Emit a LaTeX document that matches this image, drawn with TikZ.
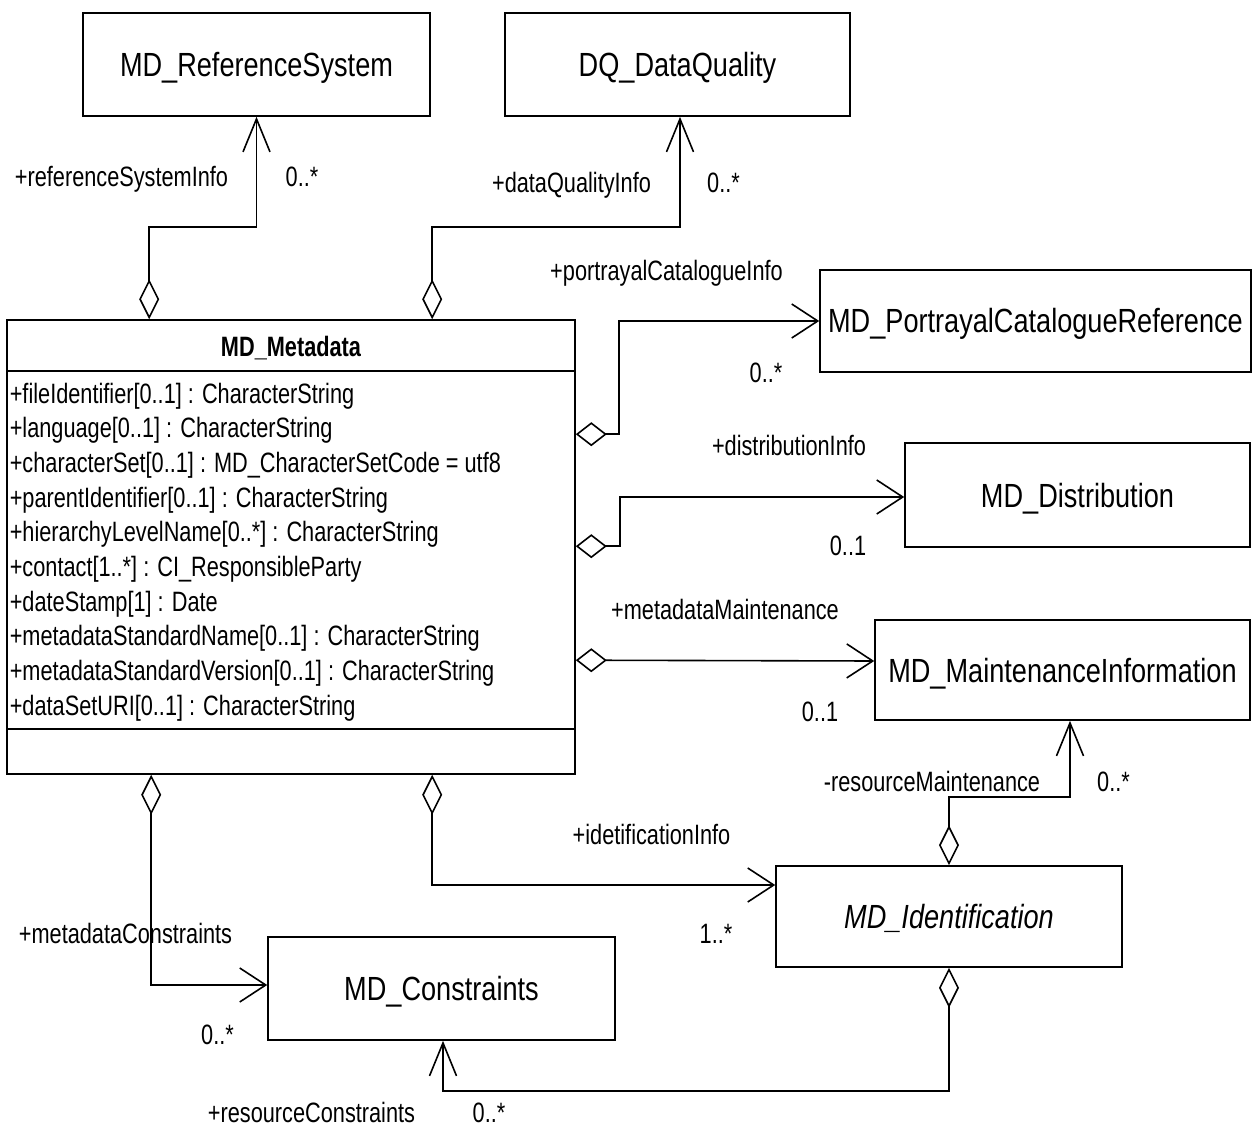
\documentclass[tikz,border=0pt]{standalone}
\usepackage{fontspec}
\setmainfont{Liberation Sans}[FakeStretch=0.81]
\newfontfamily\lblfont{Liberation Sans}[FakeStretch=0.776]
\usetikzlibrary{arrows.meta}

\tikzset{
  vdia/.tip={Diamond[open, length=40pt, width=20pt]},
  hdia/.tip={Diamond[open, length=31pt, width=24pt]},
  vbarb/.tip={Straight Barb[length=33pt, width=27pt]},
  hbarb/.tip={Straight Barb[length=26pt, width=34pt]},
}

\begin{document}
\begin{tikzpicture}[x=1pt, y=-1pt, line width=1.6pt,
    classbox/.style={draw, rectangle, inner sep=0pt, font=\fontsize{33.5}{36}\selectfont, text height=24pt, text depth=0pt},
    lbl/.style={inner sep=0pt, font=\lblfont\fontsize{28}{30}\selectfont, text height=20pt, text depth=0pt},
    attr/.style={lbl, anchor=west}]
    \useasboundingbox (0,0) rectangle (1254,1126);

    \node[classbox, minimum width=347pt, minimum height=103pt] (refsys) at (256.5,64.5) {MD\_ReferenceSystem};
    \node[classbox, minimum width=345pt, minimum height=103pt] (dq) at (677.5,64.5) {DQ\_DataQuality};
    \node[classbox, minimum width=568pt, minimum height=454pt] (meta) at (291,547) {};
    \node[classbox, minimum width=431pt, minimum height=102pt] (portrayal) at (1035.5,321) {MD\_PortrayalCatalogueReference};
    \node[classbox, minimum width=345pt, minimum height=104pt] (dist) at (1077.5,495) {MD\_Distribution};
    \node[classbox, minimum width=375pt, minimum height=100pt] (maint) at (1062.5,670) {MD\_MaintenanceInformation};
    \node[classbox, minimum width=346pt, minimum height=101pt, font=\fontsize{33.5}{36}\selectfont\itshape] (ident) at (949,916.5) {MD\_Identification};
    \node[classbox, minimum width=347pt, minimum height=103pt] (cons) at (441.5,988.5) {MD\_Constraints};

    % MD_Metadata compartments
    \node[lbl, font=\lblfont\fontsize{28}{30}\selectfont\bfseries] (metaname) at (291,346) {MD\_Metadata};
    \draw ([yshift=-52pt]meta.north west) -- ([yshift=-52pt]meta.north east);
    \draw ([yshift=46pt]meta.south west) -- ([yshift=46pt]meta.south east);
    \foreach \a [count=\i from 0] in {+fileIdentifier[0..1] : CharacterString,
        +language[0..1] : CharacterString,
        +characterSet[0..1] : MD\_CharacterSetCode = utf8,
        +parentIdentifier[0..1] : CharacterString,
        +hierarchyLevelName[0..*] : CharacterString,
        +contact[1..*] : CI\_ResponsibleParty,
        +dateStamp[1] : Date,
        +metadataStandardName[0..1] : CharacterString,
        +metadataStandardVersion[0..1] : CharacterString,
        +dataSetURI[0..1] : CharacterString}
        \node[attr] (attr\i) at (9,393+34.7*\i) {\a};

    \draw[vdia-vbarb] ([xshift=143pt]meta.north west) -- ++(0,-92) -| (refsys.south);
    \draw[vdia-vbarb] ([xshift=426pt]meta.north west) -- ++(0,-92) -| ([xshift=2.5pt]dq.south);
    \draw[hdia-hbarb] ([yshift=-115pt]meta.north east) -- ++(43,0) |- (portrayal.west);
    \draw[hdia-hbarb] ([yshift=-227pt]meta.north east) -- ++(44,0) |- ([yshift=-2pt]dist.west);
    \draw[hdia-hbarb] ([yshift=-341pt]meta.north east) -- ([yshift=9pt]maint.west);
    \draw[vdia-hbarb] ([xshift=145pt]meta.south west) |- ([yshift=3.5pt]cons.west);
    \draw[vdia-hbarb] ([xshift=426pt]meta.south west) |- ([yshift=31.5pt]ident.west);
    \draw[vdia-vbarb] (ident.north) -- ++(0,-68) -| ([xshift=7.5pt]maint.south);
    \draw[vdia-vbarb] (ident.south) -- ++(0,123) -| ([xshift=1.5pt]cons.south);

    % roles and multiplicities
    \node[lbl] (refrole) at (121.5,177) {+referenceSystemInfo};
    \node[lbl] (refmult) at (302,177) {0..*};
    \node[lbl] (dqrole) at (571.5,183) {+dataQualityInfo};
    \node[lbl] (dqmult) at (723.5,183) {0..*};
    \node[lbl] (porrole) at (666.5,271) {+portrayalCatalogueInfo};
    \node[lbl] (pormult) at (766,372) {0..*};
    \node[lbl] (distrole) at (789,445) {+distributionInfo};
    \node[lbl] (distmult) at (848,545) {0..1};
    \node[lbl] (mmrole) at (725,609) {+metadataMaintenance};
    \node[lbl] (mmmult) at (820,711) {0..1};
    \node[lbl] (rmrole) at (932,781) {-resourceMaintenance};
    \node[lbl] (rmmult) at (1113.5,781) {0..*};
    \node[lbl] (idrole) at (651.5,834) {+idetificationInfo};
    \node[lbl] (idmult) at (716,933) {1..*};
    \node[lbl] (mcrole) at (125.5,933) {+metadataConstraints};
    \node[lbl] (mcmult) at (217.5,1034) {0..*};
    \node[lbl] (rcrole) at (311.5,1112) {+resourceConstraints};
    \node[lbl] (rcmult) at (489,1112) {0..*};
\end{tikzpicture}
\end{document}
